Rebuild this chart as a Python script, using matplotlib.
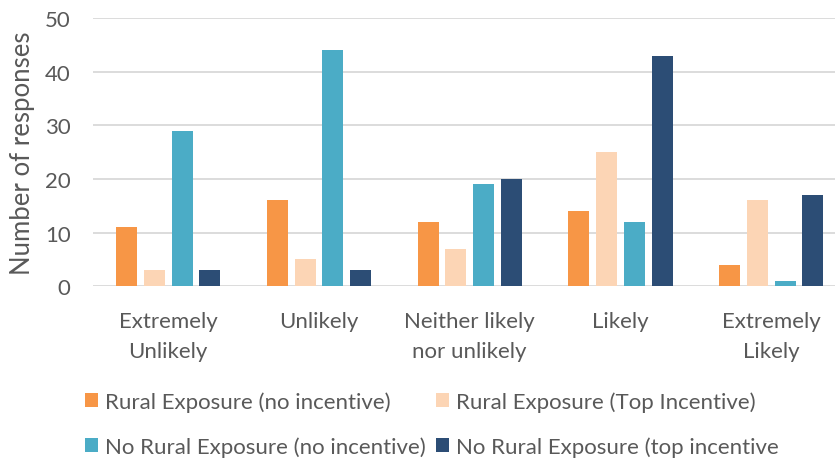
import numpy as np
import matplotlib.pyplot as plt
from matplotlib.patches import Patch

# data
categories = ['Extremely\nUnlikely', 'Unlikely', 'Neither likely\nnor unlikely', 'Likely', 'Extremely\nLikely']
rural_no = [11, 16, 12, 14, 4]
rural_top = [3, 5, 7, 25, 16]
norural_no = [29, 44, 19, 12, 1]
norural_top = [3, 3, 20, 43, 17]
series_names = ['Rural Exposure (no incentive)', 'Rural Exposure (Top Incentive)',
                'No Rural Exposure (no incentive)', 'No Rural Exposure (top incentive']
colors = ['#F79646', '#FCD5B5', '#4BACC6', '#2C4D75']

plt.rcParams['font.family'] = ['Lato', 'DejaVu Sans']
txt = '#595959'

fig = plt.figure(figsize=(8.37, 4.60), dpi=100)
ax = fig.add_axes([0.1109, 0.3754, 0.8867, 0.5833])

x = np.arange(len(categories))
step = 0.184
width = 0.14
all_series = [rural_no, rural_top, norural_no, norural_top]
for i, vals in enumerate(all_series):
    ax.bar(x + (i - 1.5) * step, vals, width=width, color=colors[i], zorder=3)

ax.set_xlim(-0.5, 4.423)
ax.set_ylim(0, 50)
ax.set_yticks(range(0, 51, 10))
ax.yaxis.grid(True, color='#D9D9D9', linewidth=1.3, zorder=0)
for s in ax.spines.values():
    s.set_visible(False)
ax.tick_params(axis='both', length=0, colors=txt, labelsize=16)
ax.tick_params(axis='y', pad=16)
ax.tick_params(axis='x', pad=18)
ax.set_xticks(x)
ax.set_xticklabels(categories, linespacing=1.6)
ax.set_ylabel('Number of responses', fontsize=18.5, color=txt, labelpad=7)

# fig.legend fills column by column, so reorder to read row by row
order = [0, 2, 1, 3]
handles = [Patch(facecolor=colors[i]) for i in order]
labels = [series_names[i] for i in order]
fig.legend(handles, labels, loc='upper left', bbox_to_anchor=(0.1016, 0.148),
           ncol=2, frameon=False, fontsize=16, labelcolor=txt, borderpad=0,
           borderaxespad=0, handlelength=0.6, handleheight=0.6, handletextpad=0.3,
           columnspacing=0.45, labelspacing=1.1)

fig.savefig('out.png', dpi=100)
